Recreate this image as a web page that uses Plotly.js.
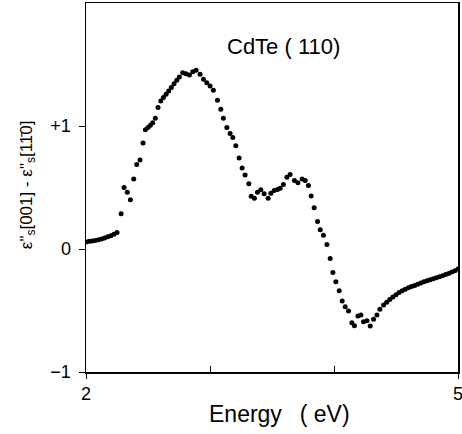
<!DOCTYPE html>
<html><head><meta charset="utf-8">
<script src="https://cdn.plot.ly/plotly-3.0.1.min.js"></script>
<style>body{margin:0;background:#fff}#c{width:462px;height:434px}</style>
</head><body><div id="c"></div>
<script>
// Photon energy (eV)
const energy = [
 2.000,2.025,2.050,2.075,2.100,2.125,2.150,2.175,2.200,2.225,2.250,
 2.283,2.307,2.333,2.358,2.385,2.409,2.436,2.460,2.479,2.500,2.519,2.538,2.559,2.581,2.603,2.624,2.646,2.667,2.688,2.710,2.732,2.753,2.780,
 2.807,2.834,2.861,2.888,2.920,2.947,2.974,3.001,3.027,3.060,3.087,3.108,3.136,3.162,3.184,3.208,3.235,3.259,3.283,3.313,3.332,3.358,
 3.383,3.410,3.437,3.469,3.491,3.517,3.544,3.566,3.592,3.620,3.646,3.681,3.709,3.743,3.768,3.794,3.816,3.840,3.867,3.889,3.915,3.943,
 3.969,3.991,4.015,4.042,4.066,4.090,4.117,4.144,4.165,4.193,4.217,4.238,4.266,4.292,4.319,4.346,
 4.370,4.400,4.425,4.450,4.475,4.500,4.525,4.550,4.575,4.600,4.625,4.650,4.675,4.700,4.725,4.750,4.775,4.800,4.825,4.850,4.875,4.900,4.925,4.950,4.975,5.000
];
// Difference eps''_s[001] - eps''_s[1-10]
const deltaEps = [
 0.057,0.062,0.066,0.070,0.075,0.081,0.090,0.100,0.108,0.120,0.135,
 0.287,0.500,0.462,0.400,0.570,0.686,0.724,0.862,0.969,0.988,1.007,1.026,1.064,1.150,1.204,1.231,1.258,1.285,1.312,1.344,1.372,1.398,1.433,
 1.425,1.415,1.441,1.453,1.420,1.380,1.352,1.326,1.291,1.210,1.137,1.064,0.988,0.939,0.907,0.840,0.740,0.659,0.602,0.530,0.429,0.413,
 0.462,0.481,0.449,0.413,0.453,0.475,0.483,0.494,0.524,0.583,0.605,0.556,0.538,0.570,0.556,0.516,0.431,0.335,0.224,0.157,0.111,0.036,
 -0.078,-0.191,-0.267,-0.340,-0.423,-0.470,-0.504,-0.599,-0.623,-0.545,-0.537,-0.591,-0.583,-0.626,-0.572,-0.537,
 -0.490,-0.455,-0.432,-0.410,-0.390,-0.372,-0.353,-0.340,-0.328,-0.315,-0.305,-0.296,-0.287,-0.276,-0.266,-0.258,-0.250,-0.242,-0.234,-0.226,-0.217,-0.208,-0.199,-0.188,-0.176,-0.162
];
const xTickVals = [2, 5];
const xTickText = ["2", "5"];
const xMinorVals = [3, 4];
const yTickVals = [-1, 0, 1];
const yTickText = ["\u22121", "0", "+1"];
const sampleLabel = "CdTe ( 110)";
const xTitle = "Energy\u2002 ( eV)";
const yTitle = "\u03b5\"<sub>s</sub>[001] - \u03b5\"<sub>s</sub>[11\u03040]";

const font = "Liberation Sans, Arial, sans-serif";
Plotly.newPlot("c", [{
  x: energy, y: deltaEps, type: "scatter", mode: "markers",
  marker: {color: "#000", size: 5}, hoverinfo: "skip"
}], {
  width: 462, height: 434,
  margin: {l: 86, r: 4, t: 3, b: 62},
  paper_bgcolor: "#fff", plot_bgcolor: "#fff",
  showlegend: false,
  font: {family: font, color: "#000", size: 18},
  xaxis: {
    range: [2, 5], showgrid: false, zeroline: false,
    showline: true, mirror: true, linecolor: "#000", linewidth: 1.5,
    tickmode: "array", tickvals: xTickVals, ticktext: xTickText,
    ticks: "outside", ticklen: 5, tickwidth: 1, tickcolor: "#000",
    ticklabeloverflow: "allow",
    minor: {tickmode: "array", tickvals: xMinorVals, ticks: "inside", ticklen: 6, tickwidth: 1, tickcolor: "#000", showgrid: false},
    tickfont: {size: 18}
  },
  yaxis: {
    range: [-1, 2], showgrid: false, zeroline: false,
    showline: true, mirror: true, linecolor: "#000", linewidth: 1.5,
    tickmode: "array", tickvals: yTickVals, ticktext: yTickText,
    ticks: "outside", ticklen: 6, tickwidth: 1, tickcolor: "#000",
    ticklabelstandoff: 4,
    tickfont: {size: 18}
  },
  annotations: [
    {text: sampleLabel, x: 3.59, y: 1.65, xref: "x", yref: "y", showarrow: false, font: {size: 22}},
    {text: xTitle, x: 0.519, y: -0.114, xref: "paper", yref: "paper", showarrow: false, font: {size: 23},
     xanchor: "center", yanchor: "middle"},
    {text: yTitle, x: -0.156, y: 0.509, xref: "paper", yref: "paper", showarrow: false, textangle: -90, font: {size: 17},
     xanchor: "center", yanchor: "middle"}
  ]
}, {displayModeBar: false, staticPlot: true});
</script></body></html>
